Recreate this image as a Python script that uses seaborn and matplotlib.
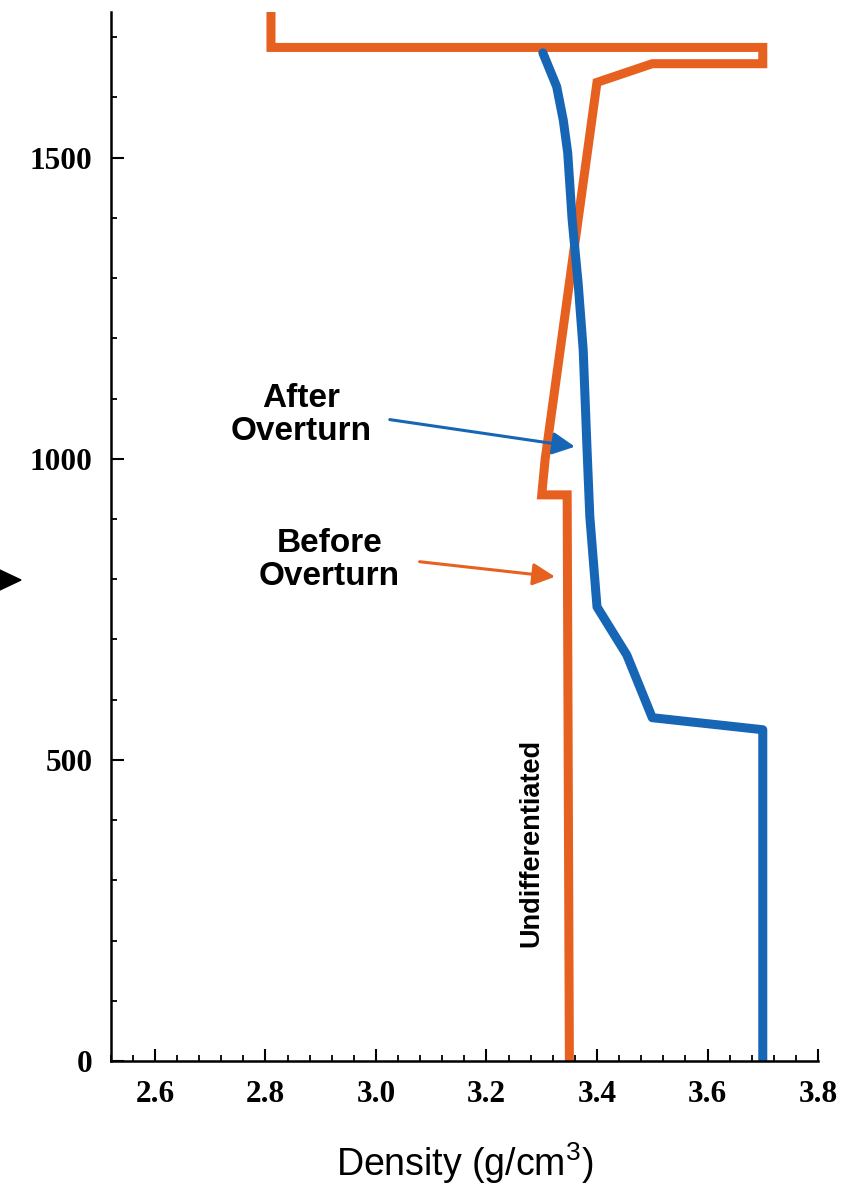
import matplotlib
matplotlib.use("Agg")
import matplotlib.pyplot as plt
from matplotlib.patches import Polygon
from matplotlib.ticker import MultipleLocator
import seaborn as sns
import pandas as pd

# ---- data (density g/cm3, depth) ----
before_density = [3.35, 3.346, 3.30, 3.306, 3.40, 3.50, 3.70, 3.70, 2.81, 2.81]
before_depth   = [0, 940, 940, 998, 1625, 1656, 1656, 1683, 1683, 1770]

after_density = [3.70, 3.70, 3.50, 3.454, 3.40, 3.387, 3.382, 3.375, 3.366, 3.355,
                 3.347, 3.339, 3.327, 3.302]
after_depth   = [0, 550, 570, 674, 754, 904, 1015, 1181, 1290, 1397,
                 1508, 1562, 1618, 1674]

x_ticks = [2.6, 2.8, 3.0, 3.2, 3.4, 3.6, 3.8]
x_tick_labels = ["2.6", "2.8", "3.0", "3.2", "3.4", "3.6", "3.8"]
y_ticks = [0, 500, 1000, 1500]
y_tick_labels = ["0", "500", "1000", "1500"]

ORANGE = "#E6611F"
BLUE = "#1766B6"

sns.set_style("ticks")
plt.rcParams["font.family"] = ["Liberation Sans", "DejaVu Sans"]
plt.rcParams["mathtext.fontset"] = "custom"
plt.rcParams["mathtext.rm"] = "Liberation Sans"
plt.rcParams["mathtext.it"] = "Liberation Sans"
plt.rcParams["text.color"] = "black"
plt.rcParams["axes.labelcolor"] = "black"
plt.rcParams["xtick.color"] = "black"
plt.rcParams["ytick.color"] = "black"

fig = plt.figure(figsize=(8.61, 11.91), dpi=100)
ax = fig.add_axes([0.1286, 0.1092, 0.8215, 0.8808])

df_before = pd.DataFrame({"density": before_density, "depth": before_depth})
df_after = pd.DataFrame({"density": after_density, "depth": after_depth})

sns.lineplot(data=df_before, x="density", y="depth", sort=False, estimator=None,
             color=ORANGE, lw=6.5, ax=ax, solid_joinstyle="miter")
sns.lineplot(data=df_after, x="density", y="depth", sort=False, estimator=None,
             color=BLUE, lw=6.5, ax=ax, solid_joinstyle="round")

ax.set_xlim(2.52, 3.80)
ax.set_ylim(0, 1742)

sns.despine(ax=ax, top=True, right=True)
for s in ["left", "bottom"]:
    ax.spines[s].set_linewidth(1.8)
    ax.spines[s].set_color("black")

ax.set_xticks(x_ticks)
ax.set_xticklabels(x_tick_labels)
ax.set_yticks(y_ticks)
ax.set_yticklabels(y_tick_labels)
ax.xaxis.set_minor_locator(MultipleLocator(0.04))
ax.yaxis.set_minor_locator(MultipleLocator(100))

ax.tick_params(axis="both", which="major", direction="in", length=9, width=1.5,
               color="black", labelcolor="black")
ax.tick_params(axis="both", which="minor", direction="in", length=4, width=1.3, color="black")
ax.tick_params(axis="x", which="major", pad=14)
ax.tick_params(axis="y", which="major", pad=13)
for lab in ax.get_xticklabels() + ax.get_yticklabels():
    lab.set_family(["Liberation Serif", "DejaVu Serif"])
    lab.set_fontweight("bold")
    lab.set_fontsize(22.5)

ax.set_xlabel("Density (g/cm$^3$)", fontsize=27, labelpad=22, color="black")
ax.set_ylabel("")

# annotations
ax.text(2.864, 1073, "After\nOverturn", ha="center", va="center", fontsize=24,
        fontweight="bold", linespacing=1.1, color="black")
ax.text(2.916, 832, "Before\nOverturn", ha="center", va="center", fontsize=24,
        fontweight="bold", linespacing=1.1, color="black")
ax.annotate("", xy=(3.36, 1020), xytext=(3.025, 1065),
            arrowprops=dict(arrowstyle="-|>", color=BLUE, lw=2.2, mutation_scale=34,
                            shrinkA=0, shrinkB=0))
ax.annotate("", xy=(3.324, 804), xytext=(3.079, 829),
            arrowprops=dict(arrowstyle="-|>", color=ORANGE, lw=2.2, mutation_scale=34,
                            shrinkA=0, shrinkB=0))
ax.text(3.282, 362, "Undifferentiated", rotation=90, ha="center", va="center",
        fontsize=19.5, fontweight="bold", color="black")

# cropped black arrowhead at the left edge
tri = Polygon([(-0.01, 1 - 566 / 1191), (-0.01, 1 - 594 / 1191), (21 / 861, 1 - 580 / 1191)],
              closed=True, transform=fig.transFigure, color="black")
fig.patches.append(tri)

fig.savefig("out.png", dpi=100)
